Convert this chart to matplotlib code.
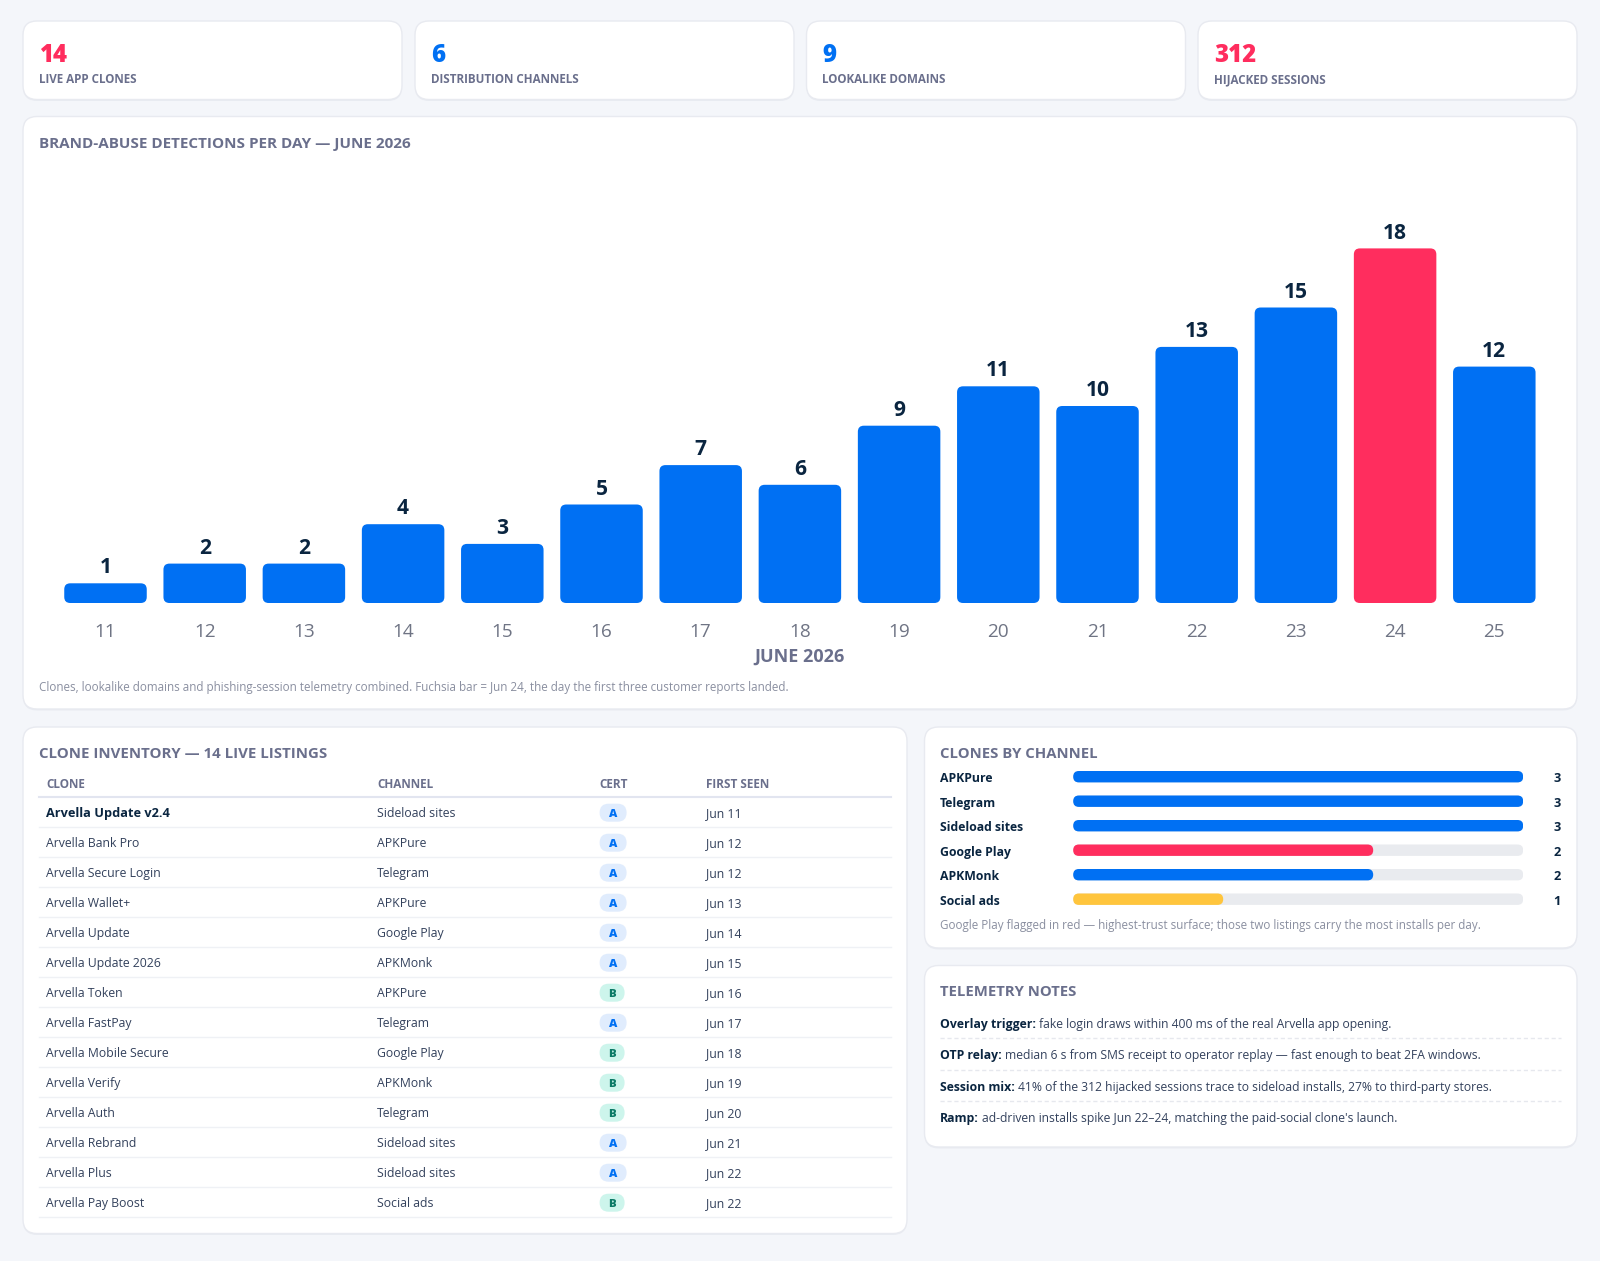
import matplotlib
matplotlib.use('Agg')
import matplotlib.pyplot as plt
from matplotlib.patches import FancyBboxPatch

plt.rcParams['font.family'] = ['Open Sans', 'DejaVu Sans']

# ---- data ----
kpi_values = ['14', '6', '9', '312']
kpi_labels = ['LIVE APP CLONES', 'DISTRIBUTION CHANNELS', 'LOOKALIKE DOMAINS', 'HIJACKED SESSIONS']
kpi_colors = ['#ff2d5e', '#0070f3', '#0070f3', '#ff2d5e']

days = ['11', '12', '13', '14', '15', '16', '17', '18', '19', '20', '21', '22', '23', '24', '25']
detections = [1, 2, 2, 4, 3, 5, 7, 6, 9, 11, 10, 13, 15, 18, 12]
peak_day = '24'

clones = ['Arvella Update v2.4', 'Arvella Bank Pro', 'Arvella Secure Login', 'Arvella Wallet+',
          'Arvella Update', 'Arvella Update 2026', 'Arvella Token', 'Arvella FastPay',
          'Arvella Mobile Secure', 'Arvella Verify', 'Arvella Auth', 'Arvella Rebrand',
          'Arvella Plus', 'Arvella Pay Boost']
clone_channels = ['Sideload sites', 'APKPure', 'Telegram', 'APKPure', 'Google Play', 'APKMonk',
                  'APKPure', 'Telegram', 'Google Play', 'APKMonk', 'Telegram', 'Sideload sites',
                  'Sideload sites', 'Social ads']
certs = ['A', 'A', 'A', 'A', 'A', 'A', 'B', 'A', 'B', 'B', 'B', 'A', 'A', 'B']
first_seen = ['Jun 11', 'Jun 12', 'Jun 12', 'Jun 13', 'Jun 14', 'Jun 15', 'Jun 16', 'Jun 17',
              'Jun 18', 'Jun 19', 'Jun 20', 'Jun 21', 'Jun 22', 'Jun 22']

channels = ['APKPure', 'Telegram', 'Sideload sites', 'Google Play', 'APKMonk', 'Social ads']
channel_counts = [3, 3, 3, 2, 2, 1]
channel_colors = ['#0070f3', '#0070f3', '#0070f3', '#ff2d5e', '#0070f3', '#ffc53d']

notes_bold = ['Overlay trigger:', 'OTP relay:', 'Session mix:', 'Ramp:']
notes_text = ['fake login draws within 400 ms of the real Arvella app opening.',
              'median 6 s from SMS receipt to operator replay — fast enough to beat 2FA windows.',
              '41% of the 312 hijacked sessions trace to sideload installs, 27% to third-party stores.',
              "ad-driven installs spike Jun 22–24, matching the paid-social clone's launch."]

# ---- colours ----
BG = '#f4f6fa'
NAVY = '#0a2540'
SLATE = '#6a6f8c'
GREY = '#8a8fa0'
BODY = '#33415c'
BLUE = '#0070f3'
RED = '#ff2d5e'
TRACK = '#e9ebef'

W, H = 1600, 1261
fig = plt.figure(figsize=(W / 100, H / 100), dpi=100, facecolor=BG)

# page axes in pixels, y pointing down
page = fig.add_axes([0, 0, 1, 1])
page.set_xlim(0, W)
page.set_ylim(H, 0)
page.axis('off')


def px(size):
    # css px to points
    return size * 0.72


def card(x0, y0, x1, y1):
    shadow = FancyBboxPatch((x0, y0 + 1.5), x1 - x0, y1 - y0, boxstyle='round,pad=0,rounding_size=14',
                            fc='#e9ecf2', ec='none', zorder=1)
    page.add_patch(shadow)
    box = FancyBboxPatch((x0, y0), x1 - x0, y1 - y0, boxstyle='round,pad=0,rounding_size=14',
                         fc='white', ec='#e8eaf0', lw=1, zorder=2)
    page.add_patch(box)


def label(x, y, s, size, color=NAVY, weight='normal', ha='left'):
    # y is the middle of the capitals
    return page.text(x, y + 0.357 * size, s, fontsize=px(size), color=color, fontweight=weight,
                     ha=ha, va='baseline', zorder=5)


def round_bar(ax, x, y, w, h, radius, aspect, color, zorder=3):
    ax.add_patch(FancyBboxPatch((x, y), w, h, boxstyle='round,pad=0,rounding_size=%f' % radius,
                                mutation_aspect=aspect, fc=color, ec='none', zorder=zorder))


# ---- KPI cards ----
kpi_x = [23, 415, 806.5, 1198]
for i in range(4):
    card(kpi_x[i], 21, kpi_x[i] + 379, 99.5)
    label(kpi_x[i] + 16, 53, kpi_values[i], 24, kpi_colors[i], 800)
    label(kpi_x[i] + 16, 78.8, kpi_labels[i], 11.65, SLATE, 'bold')

# ---- main chart card ----
card(23, 116.5, 1577, 709)
label(39, 142.5, 'BRAND-ABUSE DETECTIONS PER DAY — JUNE 2026', 15.2, SLATE, 'bold')

unit_px = 19.7
slot_px = 99.2
ymax = 20
chart = fig.add_axes([55.9 / W, 1 - 603 / H, slot_px * len(days) / W, unit_px * ymax / H])
chart.set_xlim(-0.5, len(days) - 0.5)
chart.set_ylim(0, ymax)
chart.patch.set_alpha(0)
for side in chart.spines.values():
    side.set_visible(False)
chart.set_yticks([])
chart.set_xticks(range(len(days)))
chart.set_xticklabels(days, fontsize=px(19), color='#6f7484')
chart.tick_params(axis='x', length=0, pad=14.5)
bar_w = 82.5 / slot_px
aspect = slot_px / unit_px
for i in range(len(days)):
    color = RED if days[i] == peak_day else BLUE
    round_bar(chart, i - bar_w / 2, 0, bar_w, detections[i], 6 / slot_px, aspect, color)
    chart.annotate(str(detections[i]), (i, detections[i]), xytext=(0, 3.5), textcoords='offset points',
                   ha='center', va='bottom', fontsize=px(21), fontweight='bold', color=NAVY)
chart.set_xlabel('JUNE 2026', fontsize=px(18), fontweight='bold', color=SLATE, labelpad=4.5)
label(39, 686.5, 'Clones, lookalike domains and phishing-session telemetry combined. Fuchsia bar = Jun 24, '
      'the day the first three customer reports landed.', 11.58, GREY)

# ---- inventory table ----
card(23, 727, 907, 1233.5)
label(39, 752.5, 'CLONE INVENTORY — 14 LIVE LISTINGS', 15, SLATE, 'bold')
col_x = [46.5, 377, 599.6, 706]
headers = ['CLONE', 'CHANNEL', 'CERT', 'FIRST SEEN']
for x, h in zip(col_x, headers):
    label(x, 783.3, h, 11.8, SLATE, 'bold')
page.plot([39, 891], [797, 797], color='#e2e5f0', lw=1.5, zorder=4)
row_h = 30
for i in range(len(clones)):
    y = 812.7 + i * row_h
    if i == 0:
        label(col_x[0], y - 0.4, clones[i], 12.7, NAVY, 'bold')
    else:
        label(col_x[0], y - 0.4, clones[i], 12.2, BODY)
    label(col_x[1], y - 0.4, clone_channels[i], 12.2, BODY)
    if certs[i] == 'A':
        fc, tc, bw = '#e0ecfd', BLUE, 27
    else:
        fc, tc, bw = '#cdf5ec', '#0b7a66', 25
    page.add_patch(FancyBboxPatch((col_x[2], y - 9), bw, 18, boxstyle='round,pad=0,rounding_size=9',
                                  fc=fc, ec='none', zorder=4))
    label(col_x[2] + bw / 2, y, certs[i], 11.5, tc, 800, ha='center')
    label(col_x[3], y - 0.4, first_seen[i], 12.2, BODY)
    page.plot([39, 891], [y + 14.6, y + 14.6], color='#eff1f5', lw=1, zorder=4)

# ---- channel bars ----
card(924.5, 727, 1577, 948)
label(940, 752.5, 'CLONES BY CHANNEL', 14.9, SLATE, 'bold')
track_x0, track_x1 = 1073.2, 1523.2
row_px = 24.5
first_y = 776.7
track = fig.add_axes([track_x0 / W, 1 - (first_y + row_px * 5.5) / H, (track_x1 - track_x0) / W,
                      row_px * len(channels) / H])
track.set_xlim(0, max(channel_counts))
track.set_ylim(len(channels) - 0.5, -0.5)
track.axis('off')
bar_h = 11.4 / row_px
tx_per_px = max(channel_counts) / (track_x1 - track_x0)
asp = (1 / row_px) / tx_per_px
for i in range(len(channels)):
    round_bar(track, 0, i - bar_h / 2, max(channel_counts), bar_h, 5.7 * tx_per_px, asp, TRACK, 3)
    round_bar(track, 0, i - bar_h / 2, channel_counts[i], bar_h, 5.7 * tx_per_px, asp, channel_colors[i], 4)
    y = first_y + i * row_px + 1
    label(940, y, channels[i], 12.2, NAVY, 'bold')
    label(1561, y, str(channel_counts[i]), 12.8, NAVY, 'bold', ha='right')
label(940, 925, 'Google Play flagged in red — highest-trust surface; those two listings carry the most '
      'installs per day.', 11.6, GREY)

# ---- notes ----
card(924.5, 965.5, 1577, 1147)
label(940, 991, 'TELEMETRY NOTES', 14.9, SLATE, 'bold')
note_y = [1023.4, 1055.1, 1086.4, 1117.4]
fig.canvas.draw()
renderer = fig.canvas.get_renderer()
for i in range(4):
    head = label(940, note_y[i], notes_bold[i], 12.2, NAVY, 'bold')
    end = page.transData.inverted().transform(head.get_window_extent(renderer).get_points())[1][0]
    label(end + 3, note_y[i], notes_text[i], 12.18, BODY)
    if i < 3:
        line_y = note_y[i] + 14.9
        page.plot([940, 1561], [line_y, line_y], color='#e6e8ee', lw=1, ls=(0, (3, 2)), zorder=4)

fig.savefig('out.png', dpi=100, facecolor=BG)
